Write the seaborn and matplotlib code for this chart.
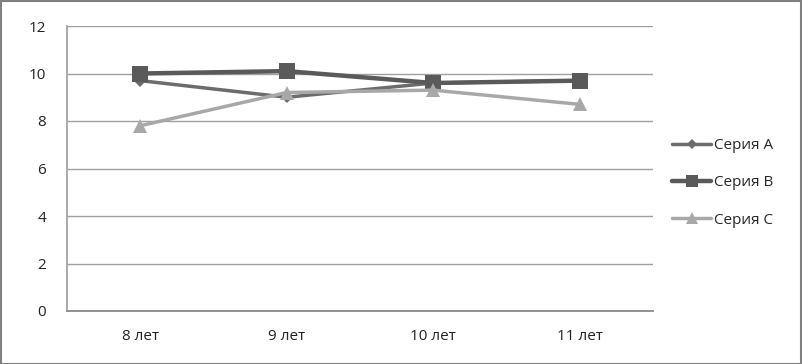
import matplotlib
matplotlib.use("Agg")
import matplotlib.pyplot as plt
import seaborn as sns
import pandas as pd
from matplotlib.patches import Rectangle
from matplotlib.lines import Line2D

categories = ["8 лет", "9 лет", "10 лет", "11 лет"]
series_names = ["Серия A", "Серия B", "Серия C"]
series_a = [9.7, 9.0, 9.6, 9.7]
series_b = [10.0, 10.1, 9.6, 9.7]
series_c = [7.8, 9.2, 9.3, 8.7]
y_ticks = [0, 2, 4, 6, 8, 10, 12]

rows = []
for name, vals in zip(series_names, [series_a, series_b, series_c]):
    for i, (c, v) in enumerate(zip(categories, vals)):
        rows.append({"pos": i, "cat": c, "value": v, "series": name})
df = pd.DataFrame(rows)

sns.set_theme(style="white")
plt.rcParams['font.family'] = ['Open Sans', 'DejaVu Sans']

fig = plt.figure(figsize=(8.02, 3.64), dpi=100)
ax = fig.add_axes([67/802, 1-311/364, (653-67)/802, (311-26)/364])

palette = {"Серия A": "#6c6c6c", "Серия B": "#5a5a5a", "Серия C": "#a8a8a8"}
markers = {"Серия A": "D", "Серия B": "s", "Серия C": "^"}
sizes = {"Серия A": 2.5, "Серия B": 3.2, "Серия C": 2.5}

sns.lineplot(data=df, x="pos", y="value", hue="series", style="series",
             palette=palette, markers=markers, dashes=False, sort=False,
             size="series", sizes=sizes, ax=ax, legend=False)
ms = {"Серия A": 6, "Серия B": 11, "Серия C": 10}
for line, name in zip(ax.get_lines(), series_names):
    line.set_markersize(ms[name])
    line.set_markeredgewidth(0)
    line.set_solid_joinstyle("miter")

ax.set_xlim(-0.5, 3.5)
ax.set_ylim(0, 12)
ax.set_yticks(y_ticks)
ax.set_yticklabels([str(t) for t in y_ticks], fontsize=11, color="#222222")
ax.set_xticks(range(len(categories)))
ax.set_xticklabels(categories, fontsize=11, color="#222222")
ax.set_xticks([-0.5, 0.5, 1.5, 2.5, 3.5], minor=True)
ax.tick_params(axis="x", which="major", length=0, pad=13)
ax.tick_params(axis="x", which="minor", length=5, color="#999999", direction="out", width=1)
ax.tick_params(axis="y", length=5, color="#a0a0a0", direction="out", pad=10, width=1)
ax.set_xlabel("")
ax.set_ylabel("")
ax.grid(axis="y", color="#a0a0a0", linewidth=1)
ax.set_axisbelow(True)
for side in ["top", "right"]:
    ax.spines[side].set_visible(False)
ax.spines["left"].set_color("#a0a0a0")
ax.spines["bottom"].set_color("#8a8a8a")
ax.spines["bottom"].set_linewidth(1.3)

handles = [Line2D([], [], color=palette[n], marker=markers[n], lw=sizes[n],
                  markersize=ms[n] * 0.8, markeredgewidth=0) for n in series_names]
fig.legend(handles, series_names, loc="center left", bbox_to_anchor=(664/802, 1-183/364),
           frameon=False, fontsize=11, handlelength=2.6, labelspacing=1.45,
           handletextpad=0.2, borderpad=0)

fig.add_artist(Rectangle((0.001, 0.001), 0.998, 0.996, transform=fig.transFigure,
                         fill=False, edgecolor="#808080", linewidth=1.5))

fig.savefig("out.png", dpi=100)
